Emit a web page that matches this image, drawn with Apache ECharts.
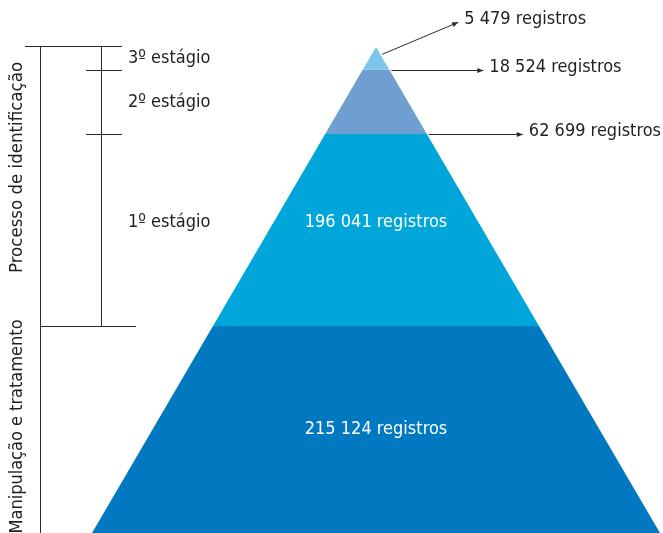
<!DOCTYPE html>
<html>
<head>
<meta charset="utf-8">
<script src="https://cdn.jsdelivr.net/npm/echarts@6/dist/echarts.min.js"></script>
<style>
  html, body { margin: 0; padding: 0; background: #ffffff; }
  #chart { width: 663px; height: 533px; }
</style>
</head>
<body>
<div id="chart"></div>
<script>
// Pyramid layers, listed from the base up. Levels run from 0 (base) to 1 (apex).
const layerNames = ['Manipulação e tratamento', '1º estágio', '2º estágio', '3º estágio'];
const layerBottom = [0, 0.426, 0.821, 0.953];
const layerTop = [0.426, 0.821, 0.953, 1];

// Record counts written inside the two lower layers
const insideRecords = [215124, 196041];

// Record counts pointed at from the right, with the level each arrow leaves from
const calloutRecords = [62699, 18524, 5479];
const calloutLevels = [0.821, 0.953, 0.985];

// Left-hand brackets: the two phases and the three stages of identification
const phaseNames = ['Manipulação e tratamento', 'Processo de identificação'];
const phaseBottom = [0, 0.426];
const phaseTop = [0.426, 1];
const stageNames = ['1º estágio', '2º estágio', '3º estágio'];
const stageBottom = [0.426, 0.821, 0.953];
const stageTop = [0.821, 0.953, 1];

// Styling
const layerColors = ['#0079C1', '#00A6DA', '#6F9FD0', '#7DC6EA'];
const inkColor = '#231F20';
const lineColor = '#2a2a2a';
const fontFamily = "'Liberation Sans Narrow', 'DejaVu Sans Condensed', 'Roboto', sans-serif";
const calloutArrow = [[94, 0], [92, 0], [76, -32]]; // per callout: [dx, dy] in px

function fmt(n) {
  return String(n).replace(/\B(?=(\d{3})+(?!\d))/g, ' ');
}

// snap a 1px line onto the pixel grid
function px(v) {
  return Math.round(v) + 0.5;
}

function hLine(x1, x2, y) {
  return { type: 'line', shape: { x1: x1, y1: px(y), x2: x2, y2: px(y) }, style: { stroke: lineColor, lineWidth: 1 } };
}

function vLine(x, y1, y2) {
  return { type: 'line', shape: { x1: px(x), y1: y1, x2: px(x), y2: y2 }, style: { stroke: lineColor, lineWidth: 1 } };
}

const chart = echarts.init(document.getElementById('chart'), null, { renderer: 'canvas' });

function arrowHead(x, y, dx, dy) {
  const len = Math.sqrt(dx * dx + dy * dy);
  const ux = dx / len, uy = dy / len;
  const size = 6, half = 2.6;
  return {
    type: 'polygon',
    shape: { points: [
      [x, y],
      [x - ux * size - uy * half, y - uy * size + ux * half],
      [x - ux * size + uy * half, y - uy * size - ux * half]
    ] },
    style: { fill: lineColor }
  };
}

const option = {
  animation: false,
  grid: { left: 92, right: 3, top: 47, bottom: 0 },
  xAxis: { type: 'value', min: -1, max: 1, show: false },
  yAxis: { type: 'value', min: 0, max: 1, show: false },
  series: [
    {
      // the pyramid layers
      type: 'custom',
      clip: false,
      data: layerNames.map((name, i) => ({ name: name, value: [i, layerBottom[i], layerTop[i]] })),
      renderItem: function (params, api) {
        const b = api.value(1), t = api.value(2);
        const pts = [[-(1 - b), b], [1 - b, b], [1 - t, t], [-(1 - t), t]].map(p => api.coord(p));
        return { type: 'polygon', shape: { points: pts }, style: { fill: layerColors[params.dataIndex] } };
      }
    },
    {
      // counts written inside the lower layers
      type: 'custom',
      clip: false,
      data: insideRecords.map((v, i) => [i, layerBottom[i], layerTop[i], v]),
      renderItem: function (params, api) {
        const mid = (api.value(1) + api.value(2)) / 2;
        const p = api.coord([0, mid]);
        const shift = params.dataIndex === 1 ? -8 : 0;
        return {
          type: 'text',
          x: p[0], y: p[1] + shift,
          style: {
            text: fmt(api.value(3)) + ' registros',
            fill: '#ffffff', font: '18px ' + fontFamily,
            align: 'center', verticalAlign: 'middle'
          }
        };
      }
    },
    {
      // callout arrows on the right
      type: 'custom',
      clip: false,
      data: calloutRecords.map((v, i) => [calloutLevels[i], v]),
      renderItem: function (params, api) {
        const lv = api.value(0);
        const s = api.coord([1 - lv, lv]);
        const d = calloutArrow[params.dataIndex];
        const x0 = s[0] + 2, y0 = d[1] === 0 ? px(s[1]) : s[1];
        const x1 = x0 + d[0], y1 = y0 + d[1];
        return {
          type: 'group',
          children: [
            { type: 'line', shape: { x1: x0, y1: y0, x2: x1, y2: y1 }, style: { stroke: lineColor, lineWidth: 1 } },
            arrowHead(x1, y1, d[0], d[1]),
            {
              type: 'text', x: x1 + 6, y: y1 - 3,
              style: {
                text: fmt(api.value(1)) + ' registros',
                fill: inkColor, font: '18px ' + fontFamily,
                align: 'left', verticalAlign: 'middle'
              }
            }
          ]
        };
      }
    },
    {
      // stage bracket with labels
      type: 'custom',
      clip: false,
      data: stageNames.map((n, i) => ({ name: n, value: [stageBottom[i], stageTop[i]] })),
      renderItem: function (params, api) {
        const i = params.dataIndex;
        const yb = api.coord([0, api.value(0)])[1];
        const yt = api.coord([0, api.value(1)])[1];
        const children = [
          vLine(101, yt - 1, yb),
          {
            type: 'text', x: 128, y: (yt + yb) / 2 + (i === 0 ? -8 : 0),
            style: {
              text: stageNames[i],
              fill: inkColor, font: '18px ' + fontFamily,
              align: 'left', verticalAlign: 'middle'
            }
          }
        ];
        // dividing ticks between stages; the top of the last stage closes on the phase line
        if (i < stageNames.length - 1) {
          children.push(hLine(86, 122, yt));
        }
        return { type: 'group', children: children };
      }
    },
    {
      // phase bracket with rotated labels
      type: 'custom',
      clip: false,
      data: phaseNames.map((n, i) => ({ name: n, value: [phaseBottom[i], phaseTop[i]] })),
      renderItem: function (params, api) {
        const i = params.dataIndex;
        const yb = i === 0 ? api.getHeight() : api.coord([0, api.value(0)])[1];
        const yt = api.coord([0, api.value(1)])[1];
        const children = [
          vLine(40, i === 0 ? yt : yt - 1, yb),
          i === 0 ? hLine(40, 136, yt) : hLine(25, 122, yt - 1),
          {
            type: 'text', x: 17, y: (yt + yb) / 2 + (i === 1 ? -19 : -3), rotation: Math.PI / 2,
            style: {
              text: phaseNames[i],
              fill: inkColor, font: (i === 1 ? '18.5px ' : '18px ') + fontFamily,
              align: 'center', verticalAlign: 'middle'
            }
          }
        ];
        return { type: 'group', children: children };
      }
    }
  ]
};

chart.setOption(option);
</script>
</body>
</html>
